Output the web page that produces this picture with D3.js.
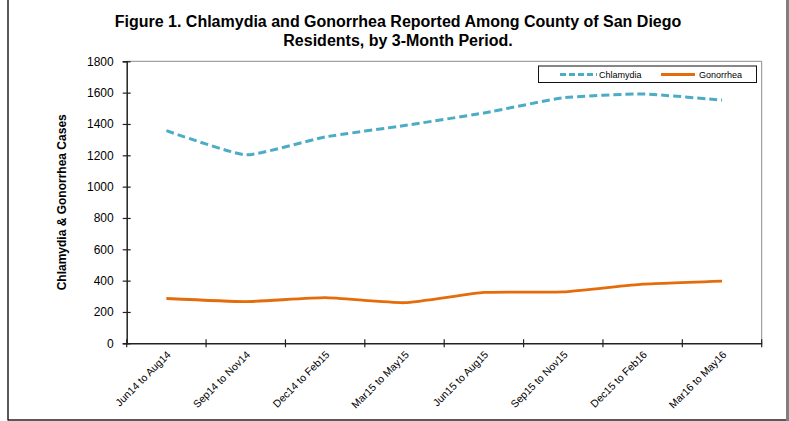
<!DOCTYPE html>
<html><head><meta charset="utf-8">
<script src="https://cdn.jsdelivr.net/npm/d3@7"></script>
<style>body{margin:0;background:#fff}svg{display:block;font-family:"Liberation Sans",Arial,sans-serif}</style>
</head><body><svg id="c" width="789" height="421"></svg>
<script>
const categories = ["Jun14 to Aug14","Sep14 to Nov14","Dec14 to Feb15","Mar15 to May15","Jun15 to Aug15","Sep15 to Nov15","Dec15 to Feb16","Mar16 to May16"];
const chlamydia = [1357,1203,1317,1390,1470,1567,1592,1552];
const gonorrhea = [286,266,291,259,325,328,378,397];
const yTicks = [0,200,400,600,800,1000,1200,1400,1600,1800];
const seriesNames = ["Chlamydia","Gonorrhea"];

const svg = d3.select("#c");
const L=126.7, R=761.7, T=61.3, B=343.3;
const x = d3.scaleBand().domain(categories).range([L,R]);
const y = d3.scaleLinear().domain([0,1800]).range([B,T]);
const cx = d => x(d)+x.bandwidth()/2;

// outer frame
svg.append("line").attr("x1",8).attr("x2",8).attr("y1",0).attr("y2",420.5).attr("stroke","#222").attr("stroke-width",1.5);
svg.append("line").attr("x1",8).attr("x2",787).attr("y1",420).attr("y2",420).attr("stroke","#222").attr("stroke-width",1.5);
svg.append("rect").attr("x",786).attr("y",0).attr("width",3).attr("height",421).attr("fill","#808080");

// title
const title = svg.append("text").attr("text-anchor","middle").attr("font-weight","bold").attr("font-size",16).attr("fill","#000");
title.append("tspan").attr("x",398).attr("y",27).text("Figure 1. Chlamydia and Gonorrhea Reported Among County of San Diego");
title.append("tspan").attr("x",398).attr("y",46).text("Residents, by 3-Month Period.");

// plot area border (top, right)
svg.append("path").attr("d",`M${L},${T}H${R}V${B}`).attr("fill","none").attr("stroke","#8c8c8c").attr("stroke-width",1);

// y axis
const yAxis = svg.append("g").attr("transform",`translate(${L},0)`)
  .call(d3.axisLeft(y).tickValues(yTicks).tickSize(4).tickPadding(9).tickFormat(d3.format("d")));
yAxis.select(".domain").attr("stroke","#222").attr("stroke-width",1.5);
yAxis.selectAll(".tick line").attr("x2",4).attr("x1",-4).attr("stroke","#222").attr("stroke-width",1.2);
yAxis.selectAll(".tick text").attr("font-size",12).attr("font-family","Liberation Sans, Arial, sans-serif").attr("fill","#000");

// x axis
const xAxis = svg.append("g").attr("transform",`translate(0,${B})`)
  .call(d3.axisBottom(x).tickSize(0).tickFormat(""));
xAxis.select(".domain").attr("stroke","#222").attr("stroke-width",1.5);
const bounds = [L].concat(categories.map(c=>x(c)+x.bandwidth()));
svg.append("g").selectAll("line").data(bounds).join("line")
  .attr("x1",d=>d).attr("x2",d=>d).attr("y1",B-4).attr("y2",B+4).attr("stroke","#222").attr("stroke-width",1.2);
svg.append("g").selectAll("text").data(categories).join("text")
  .attr("transform",d=>`translate(${cx(d)+5},${B+12}) rotate(-45)`)
  .attr("text-anchor","end").attr("font-size",10.5).attr("fill","#000").text(d=>d);

// y label
svg.append("text").attr("transform",`translate(66,${(T+B)/2}) rotate(-90)`)
  .attr("text-anchor","middle").attr("font-weight","bold").attr("font-size",12).text("Chlamydia & Gonorrhea Cases");

// lines
const line = d3.line().x((d,i)=>cx(categories[i])).y(d=>y(d)).curve(d3.curveCardinal.tension(0.55));
svg.append("path").datum(chlamydia).attr("d",line).attr("fill","none")
  .attr("stroke","#4BACC6").attr("stroke-width",3).attr("stroke-dasharray","8,4");
svg.append("path").datum(gonorrhea).attr("d",line).attr("fill","none")
  .attr("stroke","#E46C0A").attr("stroke-width",2.8);

// legend
const lg = svg.append("g");
lg.append("rect").attr("x",538.5).attr("y",66).attr("width",218).attr("height",16.5).attr("fill","#fff").attr("stroke","#111").attr("stroke-width",1);
lg.append("line").attr("x1",560).attr("x2",597).attr("y1",74.5).attr("y2",74.5).attr("stroke","#4BACC6").attr("stroke-width",3).attr("stroke-dasharray","6,3");
lg.append("text").attr("x",599).attr("y",78).attr("font-size",9).text(seriesNames[0]);
lg.append("line").attr("x1",661).attr("x2",695).attr("y1",74.5).attr("y2",74.5).attr("stroke","#E46C0A").attr("stroke-width",2.8);
lg.append("text").attr("x",699).attr("y",78).attr("font-size",9).text(seriesNames[1]);
</script></body></html>
